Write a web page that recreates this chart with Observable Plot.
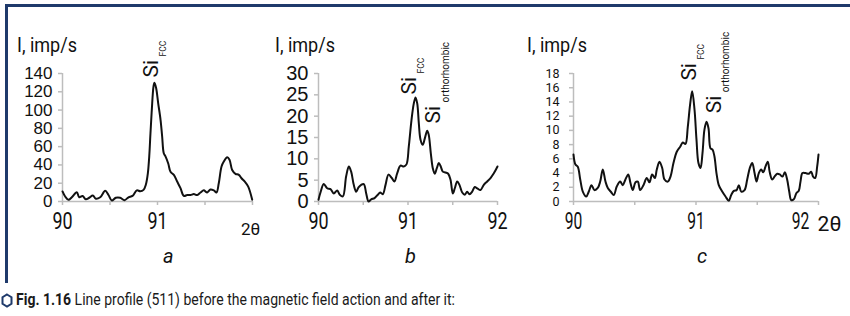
<!DOCTYPE html>
<html>
<head>
<meta charset="utf-8">
<script src="https://cdn.jsdelivr.net/npm/d3@7"></script>
<script src="https://cdn.jsdelivr.net/npm/@observablehq/plot@0.6"></script>
<style>
  body { margin: 0; background: #fff; }
  #root { position: relative; width: 850px; height: 316px; overflow: hidden; background: #fff; }
  .abs { position: absolute; white-space: nowrap; line-height: 1; color: #111; font-family: Roboto, 'Liberation Sans', sans-serif; }
</style>
</head>
<body>
<div id="root"></div>
<script>
// ---------- DATA ----------
const thetaA = [90.000, 90.028, 90.063, 90.098, 90.151, 90.176, 90.211, 90.245, 90.281, 90.319, 90.351, 90.397, 90.449, 90.484, 90.519, 90.561, 90.607, 90.653, 90.695, 90.737, 90.782, 90.818, 90.853, 90.877, 90.898, 90.913, 90.926, 90.940, 90.958, 90.968, 90.986, 91.007, 91.032, 91.049, 91.066, 91.084, 91.113, 91.137, 91.172, 91.207, 91.242, 91.277, 91.313, 91.347, 91.382, 91.418, 91.453, 91.487, 91.523, 91.558, 91.593, 91.621, 91.645, 91.674, 91.698, 91.734, 91.758, 91.786, 91.821, 91.856, 91.884, 91.919, 91.955, 91.997];
const intensityA = [11.0, 5.5, 1.8, 4.7, 10.2, 4.7, 6.1, 2.5, 4.1, 6.6, 3.0, 4.6, 11.7, 7.1, 1.0, 4.1, 4.1, 1.5, 4.6, 6.1, 12.2, 11.2, 12.7, 18.3, 30.5, 49.3, 74.6, 100.2, 125.9, 130.0, 123.9, 107.7, 89.4, 71.1, 52.8, 49.3, 41.6, 32.5, 29.1, 21.8, 14.6, 6.1, 7.1, 7.1, 8.1, 7.1, 9.9, 12.2, 9.9, 13.2, 12.2, 9.9, 20.0, 38.3, 43.7, 48.4, 45.7, 34.5, 30.3, 29.1, 25.4, 21.8, 16.2, 1.8];

const thetaB = [90.000, 90.022, 90.059, 90.097, 90.134, 90.171, 90.209, 90.238, 90.272, 90.309, 90.339, 90.365, 90.394, 90.421, 90.447, 90.477, 90.506, 90.533, 90.559, 90.589, 90.626, 90.663, 90.689, 90.718, 90.749, 90.782, 90.819, 90.849, 90.879, 90.916, 90.953, 90.983, 91.009, 91.039, 91.065, 91.084, 91.103, 91.121, 91.140, 91.165, 91.188, 91.215, 91.232, 91.255, 91.277, 91.299, 91.322, 91.344, 91.366, 91.389, 91.419, 91.449, 91.475, 91.501, 91.523, 91.550, 91.575, 91.606, 91.635, 91.661, 91.687, 91.717, 91.746, 91.773, 91.810, 91.847, 91.885, 91.922, 91.959, 92.000];
const intensityB = [0.4, 2.1, 4.1, 3.1, 2.9, 1.9, 2.6, 1.6, 1.2, 5.9, 8.2, 7.0, 3.9, 2.3, 3.3, 3.9, 4.1, 1.9, 0.0, 0.5, 0.8, 1.6, 2.1, 1.7, 3.9, 6.3, 5.5, 4.7, 6.6, 8.4, 8.2, 8.7, 12.9, 19.1, 23.0, 24.4, 23.0, 18.3, 14.5, 13.3, 14.8, 16.6, 15.6, 11.3, 7.8, 6.5, 7.8, 9.0, 8.2, 7.0, 6.8, 6.5, 5.1, 1.9, 3.1, 4.7, 3.9, 2.1, 1.6, 2.3, 1.7, 2.3, 3.4, 3.1, 2.7, 3.9, 4.7, 5.5, 6.6, 8.2];

const thetaC = [90.000, 90.016, 90.035, 90.055, 90.076, 90.104, 90.125, 90.147, 90.171, 90.198, 90.218, 90.239, 90.261, 90.280, 90.308, 90.329, 90.353, 90.381, 90.402, 90.424, 90.447, 90.465, 90.484, 90.506, 90.525, 90.544, 90.571, 90.598, 90.620, 90.642, 90.664, 90.680, 90.702, 90.724, 90.743, 90.770, 90.792, 90.816, 90.843, 90.871, 90.892, 90.914, 90.933, 90.953, 90.969, 90.988, 91.004, 91.020, 91.037, 91.053, 91.069, 91.086, 91.102, 91.118, 91.135, 91.151, 91.167, 91.186, 91.214, 91.241, 91.268, 91.287, 91.309, 91.331, 91.350, 91.369, 91.396, 91.418, 91.439, 91.459, 91.478, 91.494, 91.513, 91.532, 91.549, 91.567, 91.586, 91.602, 91.622, 91.641, 91.663, 91.684, 91.706, 91.725, 91.744, 91.761, 91.777, 91.798, 91.820, 91.839, 91.853, 91.869, 91.894, 91.921, 91.940, 91.956, 91.973, 91.989, 92.000];
const intensityC = [6.6, 5.2, 4.9, 3.1, 1.4, 0.7, 1.4, 2.3, 1.6, 1.9, 2.8, 4.5, 2.8, 1.9, 1.3, 0.9, 2.1, 2.8, 2.3, 3.1, 3.8, 2.6, 1.6, 2.7, 2.8, 1.6, 2.3, 3.3, 2.7, 3.8, 3.3, 4.5, 5.6, 4.7, 3.1, 2.8, 3.5, 5.4, 7.0, 7.7, 8.3, 8.1, 10.5, 13.8, 15.5, 12.9, 8.7, 5.4, 4.7, 6.8, 10.1, 11.2, 10.3, 7.5, 7.3, 6.3, 4.0, 2.3, 1.4, 0.7, 0.1, 0.9, 1.5, 1.6, 2.3, 1.4, 1.6, 3.1, 4.7, 5.4, 4.0, 2.8, 4.0, 4.5, 4.1, 4.9, 5.6, 4.1, 3.1, 3.5, 3.9, 3.8, 3.5, 4.1, 3.1, 1.4, 0.2, 0.3, 1.2, 1.5, 2.8, 4.0, 4.0, 3.9, 4.2, 3.5, 3.3, 4.9, 6.6];

const yTicksA = [0, 20, 40, 60, 80, 100, 120, 140];
const yTicksB = [0, 5, 10, 15, 20, 25, 30];
const yTicksC = [0, 2, 4, 6, 8, 10, 12, 14, 16, 18];
const xTickMarks = [90, 90.5, 91, 91.5, 92];
const xLabelsA = [90, 91];
const xLabelsB = [90, 91, 92];
const xLabelsC = [90, 91, 92];

const peakThetaA = [90.937];
const peakIntA = [135.6];
const peakSubA = ["FCC"];
const peakThetaB = [91.017, 91.285];
const peakIntB = [25.1, 18.3];
const peakSubB = ["FCC", "orthorhombic"];
const peakThetaC = [90.943, 91.147];
const peakIntC = [17.0, 12.4];
const peakSubC = ["FCC", "orthorhombic"];

const yAxisTitle = "I, imp/s";
const xAxisTitle = "2θ";
const panelLetters = ["a", "b", "c"];
const captionBold = "Fig. 1.16";
const captionText = " Line profile (511) before the magnetic field action and after it:";

// ---------- STYLE ----------
const SANS = "Roboto, 'Liberation Sans', sans-serif";
const ARIAL = "'Liberation Sans', Arial, sans-serif";
const NAVY = "#1f3a6b";
const AXIS_GRAY = "#bdbdbd";

const root = document.getElementById("root");

function addDiv(html, css) {
  const d = document.createElement("div");
  d.className = "abs";
  d.innerHTML = html;
  Object.assign(d.style, css);
  root.appendChild(d);
  return d;
}
function squash(div, targetWidth) {
  div.style.transformOrigin = "0 0";
  const w = div.getBoundingClientRect().width;
  div.style.transform = `scaleX(${targetWidth / w})`;
}
function scaleTexts(svg, selector, sx) {
  svg.querySelectorAll(selector).forEach(t => {
    const tr = t.getAttribute("transform") || "";
    t.setAttribute("transform", tr + ` scale(${sx},1)`);
  });
}

// border lines
addDiv("", {left: "5px", top: "4px", width: "845px", height: "2.5px", background: NAVY});
addDiv("", {left: "5px", top: "4px", width: "2.5px", height: "279px", background: NAVY});

function panel(cfg) {
  const data = cfg.theta.map((t, i) => ({t, v: cfg.intensity[i]}));
  const peaks = cfg.peakTheta.map((t, i) => ({t, v: cfg.peakInt[i], sub: cfg.peakSub[i]}));
  const yMax = cfg.yTicks[cfg.yTicks.length - 1];
  const shift = cfg.lastLabelDx || 0;
  const mainLabels = shift ? cfg.xLabels.slice(0, -1) : cfg.xLabels;
  const labelOpts = {tickSize: 0, tickPadding: 11, fontSize: 23, fill: "#111", fontFamily: SANS, tickFormat: d3.format("d"), label: null};
  const marks = [
    Plot.ruleY([0], {stroke: AXIS_GRAY, strokeWidth: 1.5}),
    Plot.ruleX([90], {stroke: AXIS_GRAY, strokeWidth: 1.5}),
    Plot.axisX({ticks: xTickMarks, tickSize: 4, stroke: AXIS_GRAY, strokeWidth: 1.5, tickFormat: () => "", label: null}),
    Plot.axisX({ticks: mainLabels, ...labelOpts}),
    Plot.axisY({ticks: cfg.yTicks, tickSize: 4, stroke: AXIS_GRAY, strokeWidth: 1.5, tickPadding: cfg.yPad, fontSize: cfg.yFont, fontFamily: cfg.yFamily, fill: "#111", tickFormat: d3.format("d"), label: null}),
    Plot.line(data, {x: "t", y: "v", curve: "catmull-rom", stroke: "#111", strokeWidth: 2}),
    Plot.text(peaks, {x: "t", y: "v", text: () => "Si", rotate: -90, textAnchor: "start", lineAnchor: "middle", fontSize: 21, fontFamily: SANS, fill: "#111"}),
    Plot.text(peaks, {x: "t", y: "v", text: "sub", rotate: -90, textAnchor: "start", lineAnchor: "middle", fontSize: d => d.sub === "FCC" ? 8.5 : 10, fontFamily: SANS, fill: "#111", dx: 12, dy: -21})
  ];
  if (shift) marks.push(Plot.axisX({ticks: cfg.xLabels.slice(-1), dx: shift, ...labelOpts}));
  if (cfg.thetaLabel) {
    marks.push(Plot.text([92], {x: d => d, y: 0, text: () => xAxisTitle, dx: cfg.thetaDx, dy: cfg.thetaDy, fontSize: cfg.thetaFont, fontFamily: SANS, fill: "#111", lineAnchor: "top"}));
  }
  const svg = Plot.plot({
    width: cfg.width,
    height: 245,
    marginLeft: cfg.marginLeft,
    marginRight: cfg.marginRight,
    marginTop: 73,
    marginBottom: 44,
    style: {background: "transparent", overflow: "visible"},
    x: {domain: [90, 92], axis: null},
    y: {domain: [0, yMax], axis: null},
    marks
  });
  svg.style.position = "absolute";
  svg.style.left = cfg.left + "px";
  svg.style.top = "0px";
  if (cfg.yScaleX) scaleTexts(svg, 'g[aria-label="y-axis tick label"] text', cfg.yScaleX);
  scaleTexts(svg, 'g[aria-label="x-axis tick label"] text', cfg.xScaleX);
  root.appendChild(svg);
}

panel({
  theta: thetaA, intensity: intensityA, yTicks: yTicksA, xLabels: xLabelsA,
  peakTheta: peakThetaA, peakInt: peakIntA, peakSub: peakSubA,
  left: 0, width: 256, marginLeft: 62, marginRight: 4,
  yFont: 17, yFamily: ARIAL, yPad: 6, xScaleX: 0.78,
  thetaLabel: true, thetaDx: -2, thetaDy: 21, thetaFont: 17
});
panel({
  theta: thetaB, intensity: intensityB, yTicks: yTicksB, xLabels: xLabelsB,
  peakTheta: peakThetaB, peakInt: peakIntB, peakSub: peakSubB,
  left: 256, width: 256, marginLeft: 62, marginRight: 15,
  yFont: 20, yFamily: ARIAL, yPad: 6, xScaleX: 0.78
});
panel({
  theta: thetaC, intensity: intensityC, yTicks: yTicksC, xLabels: xLabelsC,
  peakTheta: peakThetaC, peakInt: peakIntC, peakSub: peakSubC,
  left: 512, width: 338, marginLeft: 61, marginRight: 32,
  yFont: 12.5, yFamily: SANS, yPad: 10, xScaleX: 0.68, lastLabelDx: -18,
  thetaLabel: true, thetaDx: 11, thetaDy: 15, thetaFont: 21
});

// y-axis titles
[17, 275, 527].forEach(x => squash(addDiv(yAxisTitle, {left: x + "px", top: "35px", fontSize: "20px"}), 60));
// panel letters
[163, 405, 697].forEach((x, i) => addDiv(panelLetters[i], {left: x + "px", top: "246px", fontSize: "20px", fontStyle: "italic"}));

// caption
addDiv(`<svg width="12" height="15" viewBox="0 0 12 15"><polygon points="6,1.5 10.5,4.2 10.5,10.8 6,13.5 1.5,10.8 1.5,4.2" fill="none" stroke="${NAVY}" stroke-width="2"/></svg>`,
  {left: "1px", top: "293px"});
const cap = addDiv(`<b>${captionBold}</b>${captionText}`, {left: "16px", top: "291px", fontSize: "17px", color: "#1a1a1a"});
squash(cap, 439);
</script>
</body>
</html>
